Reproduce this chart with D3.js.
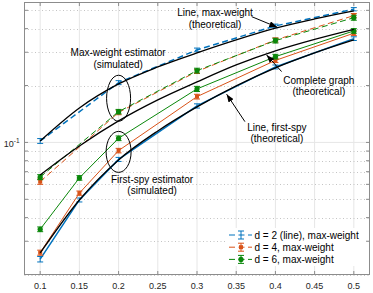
<!DOCTYPE html>
<html>
<head>
<meta charset="utf-8">
<script src="https://cdn.jsdelivr.net/npm/d3@7"></script>
<style>
  body { margin: 0; background: #fff; }
  svg text { font-family: "Liberation Sans", Arial, sans-serif; }
</style>
</head>
<body>
<svg id="chart"></svg>
<script>
const SIZE = {width: 373, height: 293}
const MARGIN = {left: 24.5, right: 3.5, top: 2.5, bottom: 18.5}

// x positions of the simulated / theoretical points
const xMaxWeight = [0.1, 0.2, 0.3, 0.4, 0.5]
const xFirstSpy = [0.1, 0.15, 0.2, 0.3, 0.4, 0.5]
const xTheory = [0.1, 0.15, 0.2, 0.25, 0.3, 0.35, 0.4, 0.45, 0.5]

// max-weight estimator (simulated), dashed
const mw2 = [0.1018, 0.2072, 0.3086, 0.4135, 0.5068]
const mw4 = [0.0620, 0.1441, 0.2375, 0.3485, 0.4689]
const mw6 = [0.0655, 0.1455, 0.2399, 0.3457, 0.4571]
const mw2Err = [0.003, 0.005, 0.007, 0.009, 0.010]
const mw4Err = [0.002, 0.004, 0.006, 0.009, 0.012]
const mw6Err = [0.002, 0.004, 0.007, 0.010, 0.014]

// first-spy estimator (simulated), solid
const fs2 = [0.0241, 0.0496, 0.0813, 0.1560, 0.2508, 0.3541]
const fs4 = [0.0261, 0.0539, 0.0905, 0.1747, 0.2716, 0.3783]
const fs6 = [0.0347, 0.0649, 0.1052, 0.1919, 0.2844, 0.3890]
const fs2Err = [0.0008, 0.0012, 0.002, 0.004, 0.006, 0.008]
const fs4Err = [0.0008, 0.0014, 0.0025, 0.005, 0.007, 0.010]
const fs6Err = [0.001, 0.0018, 0.003, 0.006, 0.008, 0.011]

// theoretical curves (black)
const thLineMW = [0.1018, 0.1522, 0.2039, 0.2508, 0.2975, 0.3485, 0.4021, 0.4501, 0.4964]
const thComplete = [0.0673, 0.0958, 0.1300, 0.1679, 0.2090, 0.2570, 0.3049, 0.3507, 0.3963]
const thLineFS = [0.0260, 0.0496, 0.0808, 0.1150, 0.1541, 0.1991, 0.2479, 0.2975, 0.3485]

const xTicks = [0.1, 0.15, 0.2, 0.25, 0.3, 0.35, 0.4, 0.45, 0.5]
const xTickLabels = ["0.1", "0.15", "0.2", "0.25", "0.3", "0.35", "0.4", "0.45", "0.5"]
const yMinorTicks = [0.02, 0.03, 0.04, 0.05, 0.06, 0.07, 0.08, 0.09, 0.2, 0.3, 0.4, 0.5]
const legendLabels = ["d = 2 (line), max-weight", "d = 4, max-weight", "d = 6, max-weight"]

const COLORS = {d2: "#0072BD", d4: "#D95319", d6: "#0a870a"}

const svg = d3.select("svg#chart").attr("width", SIZE.width).attr("height", SIZE.height)

const xScale = d3.scaleLinear().domain([0.08, 0.52]).range([MARGIN.left, SIZE.width - MARGIN.right])
const yScale = d3.scaleLog().domain([0.02, 0.55]).range([SIZE.height - MARGIN.bottom, MARGIN.top])
const x0 = xScale.range()[0], x1 = xScale.range()[1]
const y0 = yScale.range()[0], y1 = yScale.range()[1]

svg.append("defs").append("marker")
  .attr("id", "arrow")
  .attr("markerUnits", "userSpaceOnUse")
  .attr("markerWidth", 8).attr("markerHeight", 6)
  .attr("refX", 8).attr("refY", 3)
  .attr("orient", "auto")
  .append("path").attr("d", "M0,0 L8,3 L0,6 Z").attr("fill", "#000")

// grid
const grid = svg.append("g")
grid.selectAll(".vgrid").data(xTicks).enter().append("line")
  .attr("x1", d => xScale(d)).attr("x2", d => xScale(d))
  .attr("y1", y0).attr("y2", y1)
  .attr("stroke", "#e6e6e6").attr("stroke-width", 1)
grid.append("line")
  .attr("x1", x0).attr("x2", x1)
  .attr("y1", yScale(0.1)).attr("y2", yScale(0.1))
  .attr("stroke", "#e6e6e6").attr("stroke-width", 1)
grid.selectAll(".hgrid").data(yMinorTicks).enter().append("line")
  .attr("x1", x0).attr("x2", x1)
  .attr("y1", d => Math.round(yScale(d)) + 0.5).attr("y2", d => Math.round(yScale(d)) + 0.5)
  .attr("stroke", "#c4c4c4").attr("stroke-width", 1).attr("stroke-dasharray", "1,2.5")

const line = d3.line().x(d => xScale(d[0])).y(d => yScale(d[1]))
const smooth = d3.line().x(d => xScale(d[0])).y(d => yScale(d[1])).curve(d3.curveMonotoneX)

const plot = svg.append("g")

function addSeries(xs, ys, errs, color, dashed, marker, width){
  const pts = xs.map((x, i) => [x, ys[i], errs[i]])
  plot.append("path")
    .attr("d", line(pts))
    .attr("fill", "none")
    .attr("stroke", color)
    .attr("stroke-width", width)
    .attr("stroke-dasharray", dashed ? "6,3.5" : null)
  const g = plot.append("g").attr("stroke", color).attr("stroke-width", 1)
  pts.forEach(p => {
    const cx = xScale(p[0])
    const top = yScale(p[1] + p[2]), bot = yScale(p[1] - p[2])
    g.append("line").attr("x1", cx).attr("x2", cx).attr("y1", top).attr("y2", bot)
    g.append("line").attr("x1", cx - 3).attr("x2", cx + 3).attr("y1", top).attr("y2", top)
    g.append("line").attr("x1", cx - 3).attr("x2", cx + 3).attr("y1", bot).attr("y2", bot)
    drawMarker(plot, marker, cx, yScale(p[1]), color)
  })
}

function drawMarker(parent, marker, cx, cy, color){
  if(marker === "square"){
    parent.append("rect").attr("x", cx - 2).attr("y", cy - 2).attr("width", 4).attr("height", 4).attr("fill", color)
  } else if(marker === "circle"){
    parent.append("circle").attr("cx", cx).attr("cy", cy).attr("r", 2.6).attr("fill", color)
  }
}

addSeries(xFirstSpy, fs2, fs2Err, COLORS.d2, false, "none", 1.5)
addSeries(xFirstSpy, fs4, fs4Err, COLORS.d4, false, "square", 1)
addSeries(xFirstSpy, fs6, fs6Err, COLORS.d6, false, "circle", 1)
addSeries(xMaxWeight, mw2, mw2Err, COLORS.d2, true, "none", 1.5)
addSeries(xMaxWeight, mw4, mw4Err, COLORS.d4, true, "square", 1)
addSeries(xMaxWeight, mw6, mw6Err, COLORS.d6, true, "circle", 1)

;[thLineMW, thComplete, thLineFS].forEach(ys => {
  plot.append("path")
    .attr("d", smooth(xTheory.map((x, i) => [x, ys[i]])))
    .attr("fill", "none")
    .attr("stroke", "#000")
    .attr("stroke-width", 1.3)
})

// axes box with inward ticks
const axG = svg.append("g").attr("font-size", 9).attr("fill", "#262626")
axG.append("rect").attr("x", x0).attr("y", y1).attr("width", x1 - x0).attr("height", y0 - y1)
  .attr("fill", "none").attr("stroke", "#8c8c8c").attr("stroke-width", 1)
const yTickAll = yMinorTicks.concat([0.1])
axG.selectAll(".xt").data(xTicks).enter().append("path")
  .attr("d", d => `M${xScale(d)},${y0}v-3.5M${xScale(d)},${y1}v3.5`)
  .attr("stroke", "#8c8c8c")
axG.selectAll(".yt").data(yTickAll).enter().append("path")
  .attr("d", d => `M${x0},${yScale(d)}h3.5M${x1},${yScale(d)}h-3.5`)
  .attr("stroke", "#8c8c8c")
axG.selectAll(".xl").data(xTicks).enter().append("text")
  .attr("x", d => xScale(d)).attr("y", y0 + 14)
  .attr("text-anchor", "middle")
  .attr("fill", "#262626")
  .text((d, i) => xTickLabels[i])
const yl = axG.append("text").attr("x", 19.5).attr("y", yScale(0.1) + 4.5)
  .attr("text-anchor", "end").attr("fill", "#262626")
yl.append("tspan").text("10")
yl.append("tspan").attr("font-size", 6.5).attr("dy", -4).text("-1")

// annotations (anchored in data coordinates)
const ann = svg.append("g").attr("font-size", 10).attr("fill", "#000")
const notes = [
  {lines: ["Line, max-weight", "(theoretical)"], x: 0.323, y: 0.464},
  {lines: ["Max-weight estimator", "(simulated)"], x: 0.1994, y: 0.285},
  {lines: ["Complete graph", "(theoretical)"], x: 0.4554, y: 0.204},
  {lines: ["Line, first-spy", "(theoretical)"], x: 0.4019, y: 0.115},
  {lines: ["First-spy estimator", "(simulated)"], x: 0.2427, y: 0.0610},
]
notes.forEach(n => {
  const t = ann.append("text").attr("text-anchor", "middle")
  n.lines.forEach((s, i) => {
    t.append("tspan").attr("x", xScale(n.x)).attr("y", yScale(n.y) + i * 11.5).text(s)
  })
})
const arrows = [
  {from: [0.3697, 0.463], to: [0.4023, 0.407]},
  {from: [0.4079, 0.237], to: [0.3888, 0.290]},
  {from: [0.3611, 0.1288], to: [0.3378, 0.180]},
]
arrows.forEach(a => {
  svg.append("line")
    .attr("x1", xScale(a.from[0])).attr("y1", yScale(a.from[1]))
    .attr("x2", xScale(a.to[0])).attr("y2", yScale(a.to[1]))
    .attr("stroke", "#000").attr("stroke-width", 1)
    .attr("marker-end", "url(#arrow)")
})
const ellipses = [
  {x: 0.2, y: 0.1713, rx: 12, ry: 23},
  {x: 0.2, y: 0.0891, rx: 12.5, ry: 20.5},
]
ellipses.forEach(e => {
  svg.append("ellipse")
    .attr("cx", xScale(e.x)).attr("cy", yScale(e.y))
    .attr("rx", e.rx).attr("ry", e.ry)
    .attr("fill", "none").attr("stroke", "#000").attr("stroke-width", 1)
})

// legend
const leg = svg.append("g").attr("transform", "translate(226,228)")
leg.append("rect").attr("width", 140).attr("height", 38).attr("fill", "#fff")
const legItems = [
  {color: COLORS.d2, marker: "none"},
  {color: COLORS.d4, marker: "square"},
  {color: COLORS.d6, marker: "circle"},
]
legItems.forEach((it, i) => {
  const cy = 7 + i * 12.2
  leg.append("line").attr("x1", 3).attr("x2", 26).attr("y1", cy).attr("y2", cy)
    .attr("stroke", it.color).attr("stroke-width", 1).attr("stroke-dasharray", "6,3.5")
  leg.append("path").attr("d", `M15,${cy - 4}v8M12,${cy - 4}h6M12,${cy + 4}h6`)
    .attr("stroke", it.color).attr("stroke-width", 1)
  drawMarker(leg, it.marker, 15, cy, it.color)
  leg.append("text").attr("x", 28.5).attr("y", cy + 3.5)
    .attr("font-size", 10).attr("fill", "#000").text(legendLabels[i])
})
</script>
</body>
</html>
